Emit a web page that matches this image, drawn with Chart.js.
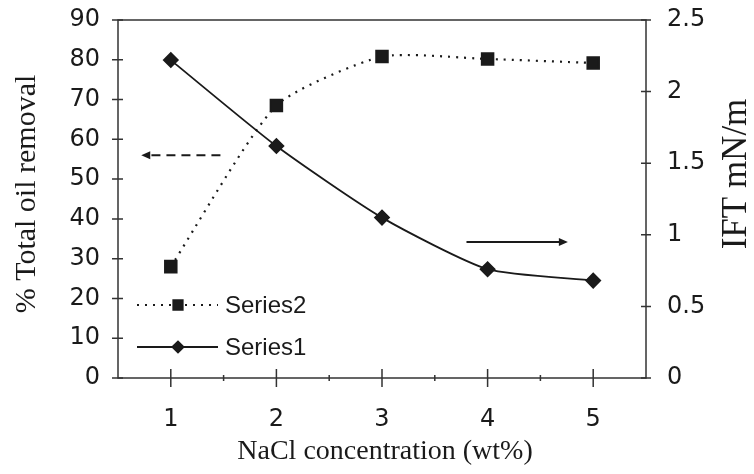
<!DOCTYPE html>
<html>
<head>
<meta charset="utf-8">
<script src="https://cdn.jsdelivr.net/npm/chart.js@4.4.1/dist/chart.umd.min.js"></script>
<style>
  html, body { margin: 0; padding: 0; background: #fff; }
  #wrap { width: 754px; height: 474px; }
</style>
</head>
<body>
<div id="wrap"><canvas id="grafica"></canvas></div>
<script>
// data
const categories = ['1', '2', '3', '4', '5'];
const removal = [28, 68.5, 80.8, 80.2, 79.2];   // Series2, left axis (%)
const ift = [2.22, 1.62, 1.12, 0.76, 0.68];     // Series1, right axis (mN/m)
const leftRange = [0, 90];
const rightRange = [0, 2.5];

// arrows, in data units: [category index, value]
const leftArrow = { from: [0.47, 56], to: [-0.28, 56] };     // left axis
const rightArrow = { from: [2.8, 0.95], to: [3.76, 0.95] };  // right axis

const ink = '#1a1a1a';
const tickFont = { family: 'DejaVu Sans', size: 24 };

const arrowHead = (ctx, x, y, dir) => {
    ctx.beginPath();
    ctx.moveTo(x, y);
    ctx.lineTo(x - dir * 9, y - 4);
    ctx.lineTo(x - dir * 9, y + 4);
    ctx.closePath();
    ctx.fill();
}

const extras = {
    id: 'extras',
    afterDraw(chart) {
        const ctx = chart.ctx;
        const a = chart.chartArea;
        const x = chart.scales.x, y = chart.scales.y, y1 = chart.scales.y1;
        ctx.save();
        ctx.strokeStyle = '#333';
        ctx.fillStyle = ink;
        ctx.lineWidth = 1.5;
        ctx.strokeRect(a.left, a.top, a.right - a.left, a.bottom - a.top);

        // tick marks crossing the axes
        ctx.beginPath();
        for (let v = leftRange[0]; v <= leftRange[1]; v += 10) {
            const py = y.getPixelForValue(v);
            ctx.moveTo(a.left - 6, py); ctx.lineTo(a.left + 5, py);
        }
        for (let v = rightRange[0]; v <= rightRange[1] + 1e-9; v += 0.5) {
            const py = y1.getPixelForValue(v);
            ctx.moveTo(a.right - 5, py); ctx.lineTo(a.right + 5, py);
        }
        categories.forEach((c, i) => {
            const px = x.getPixelForValue(i);
            ctx.moveTo(px, a.bottom - 9); ctx.lineTo(px, a.bottom + 9);
            const pm = x.getPixelForValue(i + 0.5);
            if (i < categories.length - 1) { ctx.moveTo(pm, a.bottom - 3); ctx.lineTo(pm, a.bottom + 3); }
        });
        ctx.stroke();

        // arrows
        ctx.strokeStyle = ink;
        ctx.lineWidth = 2;
        let x0 = x.getPixelForValue(leftArrow.from[0]), x1 = x.getPixelForValue(leftArrow.to[0]);
        let py = y.getPixelForValue(leftArrow.from[1]);
        ctx.setLineDash([9, 6]);
        ctx.beginPath(); ctx.moveTo(x0, py); ctx.lineTo(x1 + 6, py); ctx.stroke();
        ctx.setLineDash([]);
        arrowHead(ctx, x1, py, -1);
        x0 = x.getPixelForValue(rightArrow.from[0]); x1 = x.getPixelForValue(rightArrow.to[0]);
        py = y1.getPixelForValue(rightArrow.from[1]);
        ctx.beginPath(); ctx.moveTo(x0, py); ctx.lineTo(x1 - 6, py); ctx.stroke();
        arrowHead(ctx, x1, py, 1);

        // legend inside the plot
        const rows = [
            { ds: chart.data.datasets[1], y: 305 },
            { ds: chart.data.datasets[0], y: 347 }
        ];
        ctx.font = '24px "Liberation Sans"';
        ctx.textBaseline = 'middle';
        rows.forEach(r => {
            ctx.strokeStyle = ink;
            ctx.lineWidth = r.ds.borderWidth;
            ctx.setLineDash(r.ds.borderDash || []);
            ctx.beginPath(); ctx.moveTo(a.left + 19, r.y); ctx.lineTo(a.left + 100, r.y); ctx.stroke();
            ctx.setLineDash([]);
            Chart.helpers.drawPoint(ctx, {
                pointStyle: r.ds.pointStyle, radius: r.ds.pointRadius * 0.8,
                borderWidth: 1
            }, a.left + 60, r.y);
            ctx.fill();
            ctx.fillText(r.ds.label, a.left + 107, r.y + 1);
        });

        // axis titles
        ctx.fillStyle = ink;
        ctx.textAlign = 'center';
        ctx.font = '28px "Liberation Serif"';
        ctx.fillText('NaCl concentration (wt%)', 385, 452);
        ctx.save();
        ctx.translate(27, 194);
        ctx.rotate(-Math.PI / 2);
        ctx.font = '30px "Liberation Serif"';
        ctx.fillText('% Total oil removal', 0, 0);
        ctx.restore();
        ctx.save();
        ctx.translate(737, 174);
        ctx.rotate(-Math.PI / 2);
        ctx.font = '35px "Liberation Serif"';
        ctx.fillText('IFT mN/m', 0, 0);
        ctx.restore();
        ctx.restore();
    }
}

const grafica = new Chart('grafica', {
    type: 'line',
    data: {
        labels: categories,
        datasets: [{
            label: 'Series1',
            data: ift,
            yAxisID: 'y1',
            borderColor: ink,
            backgroundColor: ink,
            borderWidth: 1.8,
            pointStyle: 'rectRot',
            pointRadius: 7,
            tension: 0.2
        }, {
            label: 'Series2',
            data: removal,
            yAxisID: 'y',
            borderColor: ink,
            backgroundColor: ink,
            borderWidth: 2.2,
            borderDash: [2, 6],
            pointStyle: 'rect',
            pointRadius: 8,
            tension: 0.2
        }]
    },
    options: {
        responsive: true,
        maintainAspectRatio: false,
        animation: false,
        layout: { padding: { top: 20, left: 0, right: 0, bottom: 0 } },
        plugins: {
            legend: { display: false },
            tooltip: { enabled: false }
        },
        scales: {
            x: {
                offset: true,
                grid: { display: false, drawTicks: false },
                border: { display: false },
                ticks: { font: tickFont, color: ink, padding: 27, maxRotation: 0 },
                afterFit: s => { s.height = 96; s.paddingLeft = 0; s.paddingRight = 0; }
            },
            y: {
                position: 'left',
                min: leftRange[0], max: leftRange[1],
                grid: { display: false, drawTicks: false },
                border: { display: false },
                ticks: { stepSize: 10, font: tickFont, color: ink, padding: 18 },
                afterFit: s => { s.width = 118; s.paddingTop = 0; s.paddingBottom = 0; }
            },
            y1: {
                position: 'right',
                min: rightRange[0], max: rightRange[1],
                grid: { display: false, drawTicks: false },
                border: { display: false },
                ticks: { stepSize: 0.5, font: tickFont, color: ink, padding: 21, callback: v => String(v) },
                afterFit: s => { s.width = 108; s.paddingTop = 0; s.paddingBottom = 0; }
            }
        }
    },
    plugins: [extras]
});
</script>
</body>
</html>
